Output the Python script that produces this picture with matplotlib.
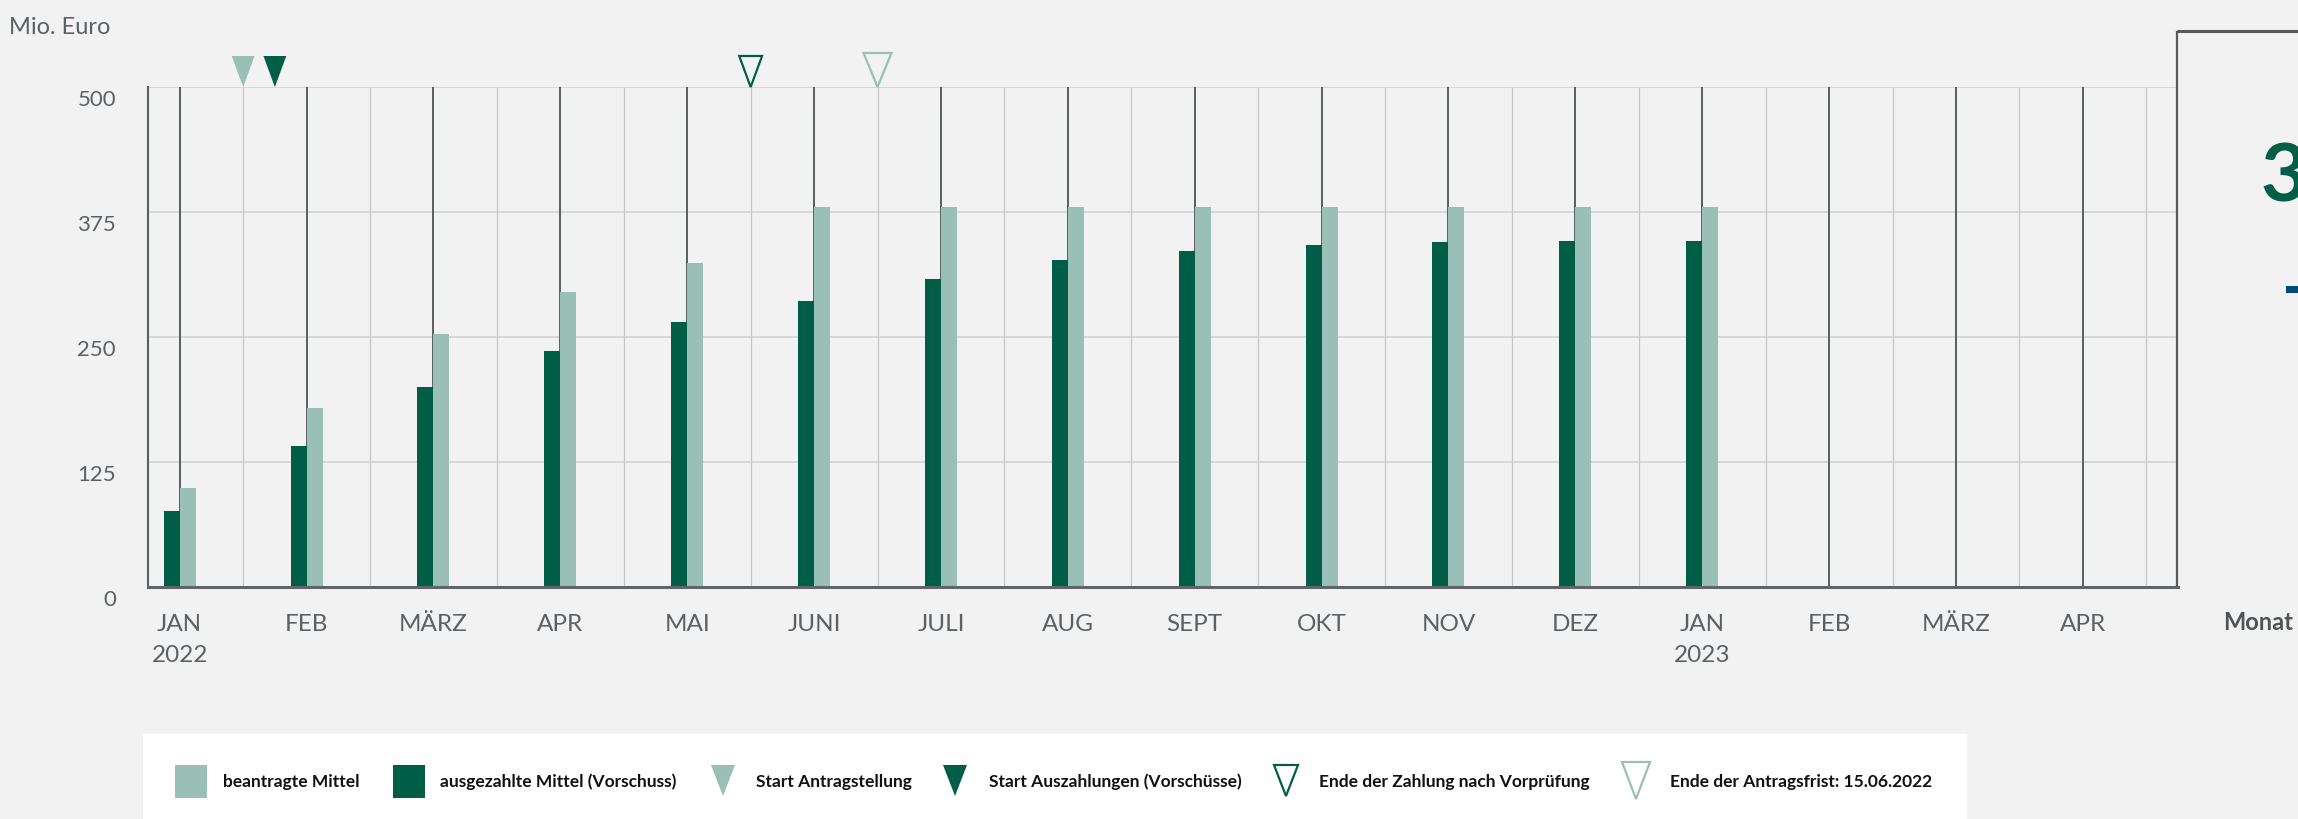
import numpy as np
import matplotlib
matplotlib.use('Agg')
import matplotlib.pyplot as plt
from matplotlib.patches import Polygon, Rectangle
import matplotlib.transforms as mtransforms

# data
months = ['JAN', 'FEB', 'MÄRZ', 'APR', 'MAI', 'JUNI', 'JULI', 'AUG', 'SEPT',
          'OKT', 'NOV', 'DEZ', 'JAN', 'FEB', 'MÄRZ', 'APR']
years = {0: '2022', 12: '2023'}
ausgezahlt = [76, 141, 200, 236, 265, 286, 308, 327, 336, 342, 345, 346, 346]
beantragt = [99, 179, 253, 295, 324, 380, 380, 380, 380, 380, 380, 380, 380]
yticks = [0, 125, 250, 375, 500]

# events (month index, mid-month = .5)
event_x = [0.5, 0.75, 4.5, 5.5]
event_filled = [True, True, False, False]
event_labels = ['Start Antragstellung', 'Start Auszahlungen (Vorschüsse)',
                'Ende der Zahlung nach Vorprüfung', 'Ende der Antragsfrist: 15.06.2022']

DARK = '#005e47'
LIGHT = '#9abfb5'
GRAYLINE = '#575f62'
TXT = '#5a6165'
BG = '#f2f2f2'
event_colors = [LIGHT, DARK, DARK, LIGHT]

plt.rcParams['font.family'] = ['Lato', 'DejaVu Sans']

W, H = 2298, 820
fig = plt.figure(figsize=(W / 100, H / 100), dpi=100, facecolor=BG)
ax = fig.add_axes([148 / W, (H - 588) / H, 2030 / W, 500 / H])
ax.set_facecolor(BG)

x = np.arange(len(months))
xb = np.arange(len(beantragt))
bw = 0.126

# grid
ax.hlines(yticks[1:], -0.25, 15.75, color='#d8d8d8', lw=1.4, zorder=1)
ax.vlines(x + 0.5, 0, 500, color='#c8c8c8', lw=0.9, zorder=1)
ax.vlines(x, 0, 500, color=GRAYLINE, lw=1.4, zorder=2)

ax.bar(xb - bw / 2, ausgezahlt, bw, color=DARK, zorder=3)
ax.bar(xb + bw / 2, beantragt, bw, color=LIGHT, zorder=3)

ax.set_xlim(-0.25, 15.75)
ax.set_ylim(0, 500)
for s in ['top', 'right']:
    ax.spines[s].set_visible(False)
ax.spines['left'].set_color(GRAYLINE)
ax.spines['left'].set_linewidth(1.5)
ax.spines['bottom'].set_color('#5f6569')
ax.spines['bottom'].set_linewidth(2.2)
ax.spines['bottom'].set_zorder(4)

xlabels = [m + ('\n' + years[i] if i in years else '') for i, m in enumerate(months)]
ax.set_xticks(x, labels=xlabels, fontsize=17.5, color=TXT, linespacing=1.55)
ax.tick_params(axis='x', length=0, pad=19)
ax.set_yticks(yticks, labels=[str(v) for v in yticks], fontsize=16, color=TXT)
ax.tick_params(axis='y', length=0, pad=23)
off = mtransforms.ScaledTranslation(0, -10 / 100, fig.dpi_scale_trans)
for lab in ax.get_yticklabels():
    lab.set_transform(lab.get_transform() + off)

# event markers above the plot
for ex, filled, col in zip(event_x, event_filled, event_colors):
    hw = 0.09 if (filled or col == DARK) else 0.11
    h = 31 if (filled or col == DARK) else 34
    tri = Polygon([(ex - hw, 500 + h), (ex + hw, 500 + h), (ex, 500)], closed=True,
                  facecolor=col if filled else 'none', edgecolor=col,
                  lw=0 if filled else 1.6, clip_on=False, zorder=5)
    ax.add_patch(tri)

# overlay in pixel coords for annotations and legend
ov = fig.add_axes([0, 0, 1, 1])
ov.set_xlim(0, W)
ov.set_ylim(H, 0)
ov.axis('off')

ov.text(9, 27, 'Mio. Euro', fontsize=17, color=TXT, va='center', ha='left')
ov.plot([2177, 2177], [588, 32], color='#5a5a5a', lw=1.6, solid_capstyle='butt')
ov.plot([2177, 2298], [32, 32], color='#5a5a5a', lw=2.2, solid_capstyle='butt')
ov.text(2260, 178, '3', fontsize=58, fontweight='bold', color=DARK, va='center', ha='left')
ov.add_patch(Rectangle((2286, 287), 14, 7, color='#004b7c', lw=0))
ov.text(2258, 623, 'Monat', fontsize=17, fontweight='bold', color='#4f5456',
        va='center', ha='center')

# legend
ov.add_patch(Rectangle((143, 735), 1824, 90, facecolor='white', edgecolor='none'))
leg_text_x = [223, 440, 756, 989, 1319, 1670]
ov.add_patch(Rectangle((175, 766), 32, 33, facecolor=LIGHT, lw=0))
ov.add_patch(Rectangle((393, 766), 32, 33, facecolor=DARK, lw=0))
ov.text(leg_text_x[0], 782, 'beantragte Mittel', fontsize=12.5, fontweight='bold',
        color='#111111', va='center')
ov.text(leg_text_x[1], 782, 'ausgezahlte Mittel (Vorschuss)', fontsize=12.5,
        fontweight='bold', color='#111111', va='center')
leg_tri_x = [723, 955, 1286, 1636]
for i, (tx, filled, col, lab) in enumerate(zip(leg_tri_x, event_filled, event_colors, event_labels)):
    big = (not filled) and col == LIGHT
    hw = 14 if big else 12
    top, tip = (763, 800) if big else (766, 797)
    ov.add_patch(Polygon([(tx - hw, top), (tx + hw, top), (tx, tip)], closed=True,
                         facecolor=col if filled else 'none', edgecolor=col,
                         lw=0 if filled else 1.6))
    ov.text(leg_text_x[i + 2], 782, lab, fontsize=12.5, fontweight='bold',
            color='#111111', va='center')

fig.savefig('out.png', dpi=100, facecolor=BG)
